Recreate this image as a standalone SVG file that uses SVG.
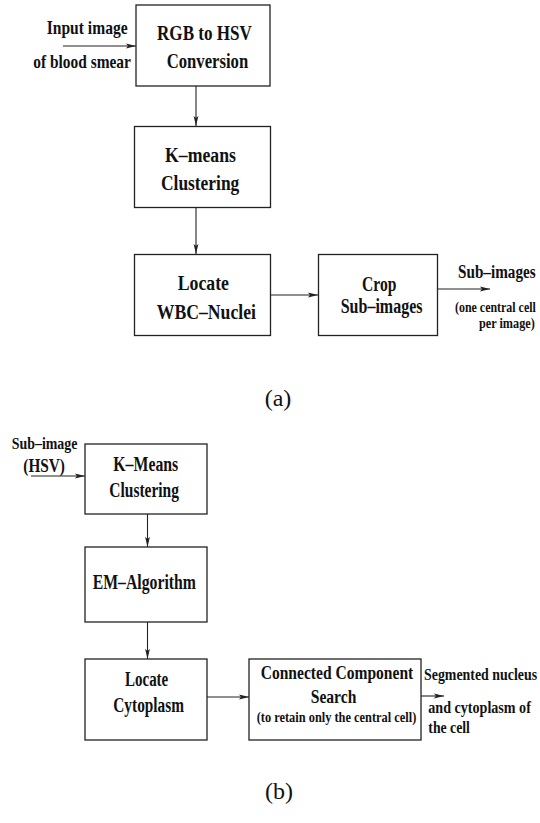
<svg xmlns="http://www.w3.org/2000/svg" width="540" height="823" viewBox="0 0 540 823">
<defs>
<marker id="ah" viewBox="0 0 10 6" refX="10" refY="3" markerWidth="10" markerHeight="6" markerUnits="userSpaceOnUse" orient="auto">
<path d="M0,0.6 L10,3 L0,5.4 L2,3 Z" fill="#222"/>
</marker>
<style>
.box{fill:#fff;stroke:#222;stroke-width:1.3}
.ln{fill:none;stroke:#222;stroke-width:1.1;marker-end:url(#ah)}
text{font-family:"Liberation Serif","Times New Roman",serif;font-weight:bold;fill:#111}
.lab{font-weight:normal;font-size:24px}
</style>
</defs>
<rect width="540" height="823" fill="#fff"/>
<g id="connectors">
<line class="ln" x1="63" y1="46" x2="136" y2="46"/>
<line class="ln" x1="196" y1="86" x2="196" y2="126"/>
<line class="ln" x1="196" y1="208" x2="196" y2="254"/>
<line class="ln" x1="270" y1="295" x2="318" y2="295"/>
<line class="ln" x1="437" y1="289" x2="490" y2="289"/>
<line class="ln" x1="31" y1="476" x2="85" y2="476"/>
<line class="ln" x1="147.5" y1="514" x2="147.5" y2="547"/>
<line class="ln" x1="147.5" y1="622" x2="147.5" y2="659"/>
<line class="ln" x1="207" y1="697" x2="249" y2="697"/>
<line class="ln" x1="421" y1="696" x2="444" y2="696"/>
</g>
<g id="input-a" font-size="18.5">
<text transform="translate(46.7,33.7) scale(0.843,1)">Input image</text>
<text transform="translate(33.3,67.5) scale(0.834,1)">of blood smear</text>
</g>
<g id="rgb2hsv" font-size="20">
<rect class="box" x="136" y="5" width="134" height="81"/>
<text transform="translate(157,40) scale(0.855,1)">RGB to HSV</text>
<text transform="translate(166.7,68) scale(0.834,1)">Conversion</text>
</g>
<g id="kmeans-a" font-size="20">
<rect class="box" x="134.5" y="126.5" width="136" height="81"/>
<text transform="translate(165,162) scale(0.887,1)">K–means</text>
<text transform="translate(161,190) scale(0.87,1)">Clustering</text>
</g>
<g id="locate-wbc" font-size="20">
<rect class="box" x="134.5" y="254.5" width="136" height="81"/>
<text transform="translate(177.7,290) scale(0.888,1)">Locate</text>
<text transform="translate(156.7,318.5) scale(0.885,1)">WBC–Nuclei</text>
</g>
<g id="crop" font-size="20">
<rect class="box" x="318.5" y="254.5" width="119" height="81"/>
<text transform="translate(362,291) scale(0.78,1)">Crop</text>
<text transform="translate(340.7,313) scale(0.80,1)">Sub–images</text>
</g>
<g id="output-a">
<text font-size="19" transform="translate(458,277.5) scale(0.80,1)">Sub–images</text>
<text font-size="14.5" transform="translate(455,311.7) scale(0.824,1)">(one central cell</text>
<text font-size="14.5" transform="translate(479,327.5) scale(0.843,1)">per image)</text>
</g>
<text class="lab" x="278" y="406" text-anchor="middle">(a)</text>
<g id="input-b">
<text font-size="17" transform="translate(11.7,449.3) scale(0.82,1)">Sub–image</text>
<text font-size="18" transform="translate(23.3,471.5) scale(0.85,1)">(HSV)</text>
</g>
<g id="kmeans-b" font-size="20">
<rect class="box" x="85" y="444" width="122" height="70"/>
<text transform="translate(113.3,470.5) scale(0.79,1)">K–Means</text>
<text transform="translate(109.3,496.5) scale(0.774,1)">Clustering</text>
</g>
<g id="em" font-size="20">
<rect class="box" x="85" y="547" width="122" height="75"/>
<text transform="translate(92.7,589.3) scale(0.788,1)">EM–Algorithm</text>
</g>
<g id="locate-cyto" font-size="20">
<rect class="box" x="85" y="659" width="122" height="81"/>
<text transform="translate(125,686) scale(0.75,1)">Locate</text>
<text transform="translate(113.3,712) scale(0.767,1)">Cytoplasm</text>
</g>
<g id="ccs">
<rect class="box" x="249" y="659" width="172" height="81"/>
<text font-size="18" transform="translate(260.7,679) scale(0.865,1)">Connected Component</text>
<text font-size="18" transform="translate(310.7,703) scale(0.868,1)">Search</text>
<text font-size="14" transform="translate(256.7,722) scale(0.885,1)">(to retain only the central cell)</text>
</g>
<g id="output-b" font-size="17.5">
<text transform="translate(424,680) scale(0.794,1)">Segmented nucleus</text>
<text transform="translate(428.3,713.3) scale(0.806,1)">and cytoplasm of</text>
<text transform="translate(428.3,732.7) scale(0.787,1)">the cell</text>
</g>
<text class="lab" x="279" y="799" text-anchor="middle">(b)</text>
</svg>
